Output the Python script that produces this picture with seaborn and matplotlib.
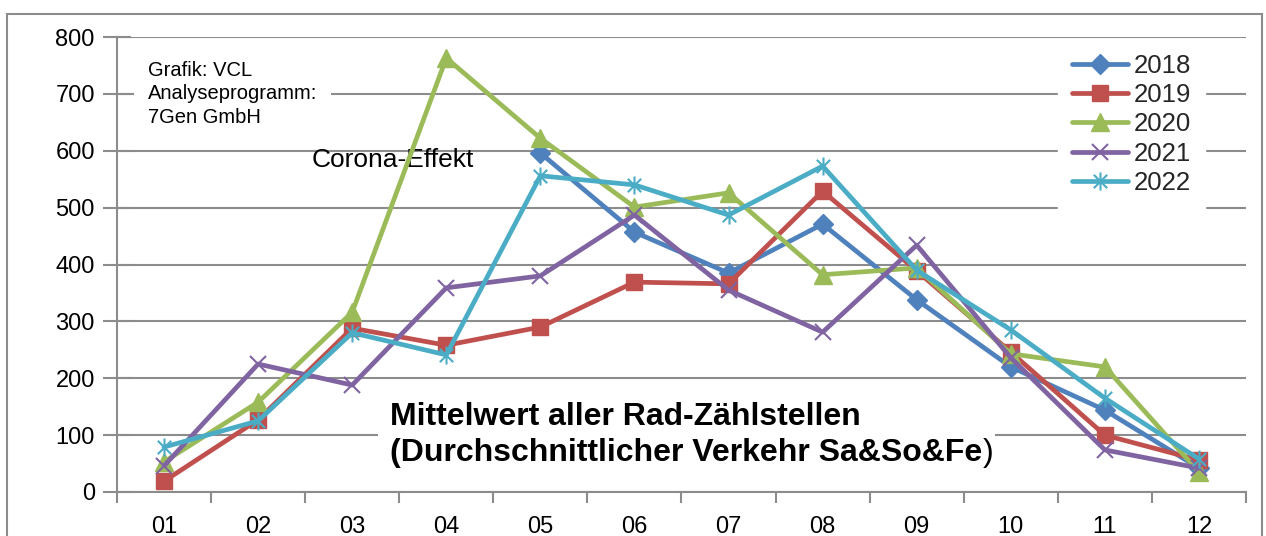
import numpy as np
import pandas as pd
import matplotlib
matplotlib.use("Agg")
import matplotlib.pyplot as plt
import seaborn as sns
from matplotlib.path import Path
from matplotlib.patches import Rectangle

# ------------------------------------------------------------
# Data
# ------------------------------------------------------------
months = ["01", "02", "03", "04", "05", "06", "07", "08", "09", "10", "11", "12"]

v2018 = [np.nan, np.nan, np.nan, np.nan, 596, 457, 385, 471, 338, 220, 144, 42]
v2019 = [19, 127, 288, 258, 290, 369, 366, 529, 389, 246, 100, 56]
v2020 = [53, 158, 316, 763, 622, 501, 526, 382, 394, 243, 220, 35]
v2021 = [46, 225, 188, 359, 380, 487, 355, 281, 434, 236, 74, 42]
v2022 = [79, 125, 280, 241, 556, 540, 487, 573, 390, 285, 165, 58]

years = ["2018", "2019", "2020", "2021", "2022"]
y_ticks = [0, 100, 200, 300, 400, 500, 600, 700, 800]

# ------------------------------------------------------------
# Styling
# ------------------------------------------------------------
sns.set_theme(style="white")
plt.rcParams["font.family"] = ["Liberation Sans", "DejaVu Sans"]

GRAY = "#8c8c8c"

# Excel style asterisk: an x plus a vertical bar
star_path = Path(
    [(-1, -1), (1, 1), (-1, 1), (1, -1), (0, -1.35), (0, 1.35)],
    [Path.MOVETO, Path.LINETO, Path.MOVETO, Path.LINETO, Path.MOVETO, Path.LINETO],
)

series = {
    "2018": dict(values=v2018, color="#4F81BD", marker="D", ms=10, mew=1),
    "2019": dict(values=v2019, color="#C0504D", marker="s", ms=12, mew=1),
    "2020": dict(values=v2020, color="#9BBB59", marker="^", ms=13, mew=1),
    "2021": dict(values=v2021, color="#8064A2", marker="x", ms=12, mew=1.5),
    "2022": dict(values=v2022, color="#4BACC6", marker=star_path, ms=13, mew=1.5),
}

df = pd.DataFrame({"pos": np.arange(len(months))})
for yr in years:
    df[yr] = series[yr]["values"]

fig, ax = plt.subplots(figsize=(12.66, 5.36), dpi=100)
fig.subplots_adjust(left=117 / 1266, right=1246 / 1266, top=1 - 37 / 536, bottom=1 - 492 / 536)

for yr in years:
    s = series[yr]
    sns.lineplot(
        data=df, x="pos", y=yr, ax=ax,
        color=s["color"], linewidth=3.4, label=yr,
        marker=s["marker"], markersize=s["ms"],
        markeredgecolor=s["color"], markerfacecolor=s["color"],
        markeredgewidth=s["mew"], zorder=2,
    )

# ------------------------------------------------------------
# Axes
# ------------------------------------------------------------
ax.set_xlim(-0.5, len(months) - 0.5)
ax.set_ylim(0, 800)
ax.set_xlabel("")
ax.set_ylabel("")

ax.set_xticks(df["pos"])
ax.set_xticklabels(months)
ax.set_xticks(np.arange(-0.5, len(months), 1), minor=True)
ax.tick_params(axis="x", which="major", length=0, pad=17, labelsize=17, labelcolor="black")
ax.tick_params(axis="x", which="minor", length=8, width=1.5, color=GRAY, direction="out", bottom=True)

ax.set_yticks(y_ticks)
ax.tick_params(axis="y", length=20, width=1.5, color=GRAY, direction="inout", pad=6,
               labelsize=17, labelcolor="black", left=True)

ax.yaxis.grid(True, color=GRAY, linewidth=1.5)
ax.set_axisbelow(True)

for side in ["top", "right"]:
    ax.spines[side].set_visible(False)
for side in ["left", "bottom"]:
    ax.spines[side].set_color(GRAY)
    ax.spines[side].set_linewidth(1.5)

# ------------------------------------------------------------
# Texts
# ------------------------------------------------------------
ax.text(0.0275, 0.948, "Grafik: VCL\nAnalyseprogramm:\n7Gen GmbH",
        transform=ax.transAxes, fontsize=14.5, ha="left", va="top", linespacing=1.3,
        color="black", zorder=1.5,
        bbox=dict(facecolor="white", edgecolor="none", pad=10))

ax.text(0.172, 0.73, "Corona-Effekt", transform=ax.transAxes, fontsize=19,
        ha="left", va="center", color="black", zorder=1.5)

title = ax.text(0.242, 0.125,
                "Mittelwert aller Rad-Zählstellen\n(Durchschnittlicher Verkehr Sa&So&Fe",
                transform=ax.transAxes, fontsize=23, fontweight="bold",
                ha="left", va="center", linespacing=1.25, color="black", zorder=1.5,
                bbox=dict(facecolor="white", edgecolor="none", pad=9))
ax.annotate(")", xy=(1, 0), xycoords=title, ha="left", va="bottom",
            fontsize=23, color="black", zorder=1.5)

# ------------------------------------------------------------
# Legend
# ------------------------------------------------------------
leg = ax.legend(loc="upper right", bbox_to_anchor=((1205 - 117) / 1129, (492 - 40) / 455),
                fontsize=18.5, frameon=True, facecolor="white", edgecolor="white", framealpha=1,
                handlelength=2.2, handletextpad=0.2, labelspacing=0.2, borderpad=0.55,
                borderaxespad=0, fancybox=False)

# outer chart frame
fig.add_artist(Rectangle((7 / 1266, -0.1), (1262 - 7) / 1266, 1 - 14 / 536 + 0.1,
                         transform=fig.transFigure, fill=False, edgecolor=GRAY, linewidth=1.5))

fig.savefig("out.png", dpi=100)
